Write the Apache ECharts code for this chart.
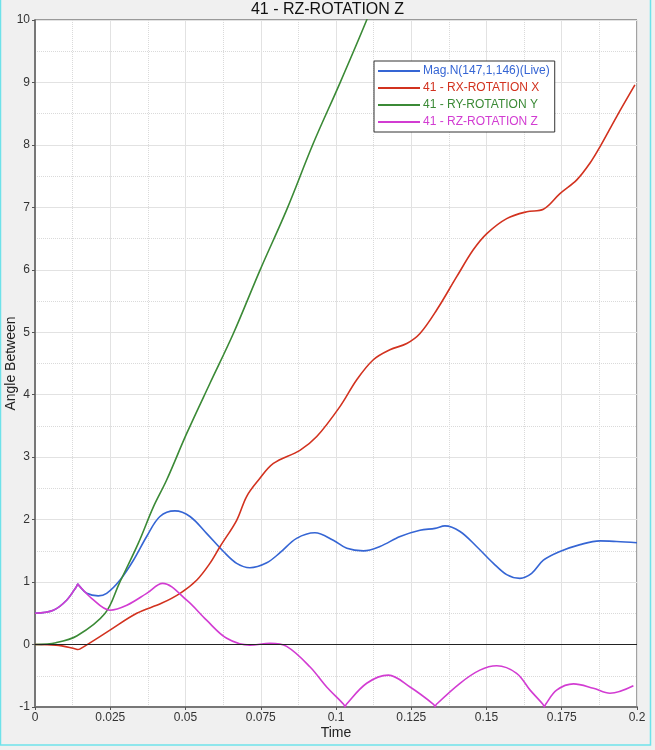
<!DOCTYPE html>
<html style="height: 100%">
<head>
<meta charset="utf-8">
</head>
<body style="height: 100%; margin: 0; background: #f0f0f0">
<div id="container" style="width: 655px; height: 750px"></div>
<script type="text/javascript" src="https://cdn.jsdelivr.net/npm/echarts@6/dist/echarts.min.js"></script>
<script type="text/javascript">
// values (time in s, angle)
var magT = [0, 0.0061, 0.0105, 0.0138, 0.0142, 0.0147, 0.0172, 0.021, 0.0238, 0.0282, 0.0327, 0.0371, 0.0415, 0.0465, 0.0515, 0.057, 0.0626, 0.067, 0.0714, 0.077, 0.0814, 0.0869, 0.093, 0.0991, 0.1036, 0.1091, 0.1146, 0.1213, 0.1279, 0.1329, 0.1362, 0.1412, 0.1467, 0.1523, 0.1567, 0.1611, 0.165, 0.1689, 0.1744, 0.1811, 0.1877, 0.1932, 0.2];
var magV = [0.5, 0.55, 0.71, 0.93, 0.97, 0.94, 0.82, 0.78, 0.82, 1.03, 1.35, 1.73, 2.05, 2.14, 2.05, 1.78, 1.49, 1.30, 1.23, 1.31, 1.47, 1.70, 1.79, 1.67, 1.54, 1.50, 1.57, 1.73, 1.83, 1.86, 1.90, 1.81, 1.57, 1.30, 1.12, 1.06, 1.14, 1.35, 1.49, 1.60, 1.66, 1.65, 1.63];

var rxT = [0, 0.007, 0.0135, 0.0142, 0.015, 0.0249, 0.0338, 0.042, 0.0482, 0.0537, 0.0581, 0.0615, 0.067, 0.0703, 0.0742, 0.0792, 0.088, 0.0936, 0.1013, 0.1069, 0.1124, 0.1179, 0.1235, 0.1279, 0.1335, 0.1401, 0.1456, 0.1501, 0.1567, 0.1634, 0.1689, 0.1744, 0.18, 0.1844, 0.1877, 0.1932, 0.1993];
var rxV = [0, -0.01, -0.07, -0.08, -0.07, 0.23, 0.5, 0.66, 0.82, 1.03, 1.3, 1.57, 1.99, 2.37, 2.63, 2.90, 3.11, 3.33, 3.81, 4.24, 4.56, 4.72, 4.82, 4.98, 5.36, 5.89, 6.32, 6.58, 6.82, 6.93, 6.97, 7.22, 7.44, 7.71, 7.97, 8.45, 8.96];

var ryT = [0, 0.007, 0.014, 0.0233, 0.028, 0.0343, 0.0393, 0.0437, 0.0504, 0.0581, 0.0659, 0.0748, 0.0836, 0.0925, 0.1013, 0.1102, 0.115];
var ryV = [0, 0.03, 0.14, 0.5, 0.98, 1.62, 2.2, 2.63, 3.38, 4.18, 4.98, 6.0, 6.96, 8.03, 8.99, 10.0, 10.6];

var rzT = [0, 0.0061, 0.0105, 0.0138, 0.0142, 0.0147, 0.0188, 0.0249, 0.0305, 0.0371, 0.0424, 0.0504, 0.057, 0.0637, 0.0714, 0.0781, 0.0836, 0.0914, 0.0969, 0.1026, 0.103, 0.1034, 0.1102, 0.1174, 0.1246, 0.1325, 0.1329, 0.1333, 0.1412, 0.1478, 0.1534, 0.16, 0.1645, 0.1688, 0.1692, 0.1696, 0.1733, 0.1789, 0.1855, 0.191, 0.1988];
var rzV = [0.5, 0.55, 0.71, 0.93, 0.97, 0.94, 0.74, 0.55, 0.63, 0.82, 0.98, 0.71, 0.39, 0.1, -0.01, 0.02, -0.03, -0.36, -0.68, -0.96, -1.0, -0.96, -0.62, -0.49, -0.68, -0.96, -1.0, -0.96, -0.62, -0.41, -0.34, -0.46, -0.73, -0.96, -1.0, -0.96, -0.73, -0.63, -0.70, -0.78, -0.66];

var names = ['Mag.N(147,1,146)(Live)', '41 - RX-ROTATION X', '41 - RY-ROTATION Y', '41 - RZ-ROTATION Z'];
var colors = ['#3565d4', '#d2321f', '#3b8a36', '#d23cd2'];

function pairs(t, v) {
    var res = [];
    for (var i = 0; i < t.length; i++) res.push([t[i], v[i]]);
    return res;
}

var dom = document.getElementById('container');
var myChart = echarts.init(dom, null, { renderer: 'canvas' });

var seriesData = [pairs(magT, magV), pairs(rxT, rxV), pairs(ryT, ryV), pairs(rzT, rzV)];
var series = [];
for (var i = 0; i < 4; i++) {
    var s = {
        name: names[i],
        type: 'line',
        data: seriesData[i],
        showSymbol: false,
        smooth: 0.35,
        clip: true,
        color: colors[i],
        lineStyle: { color: colors[i], width: 1.6 }
    };
    if (i === 0) {
        s.markLine = {
            silent: true,
            symbol: ['none', 'none'],
            label: { show: false },
            lineStyle: { color: '#222', width: 1, type: 'solid' },
            data: [{ yAxis: 0 }]
        };
    }
    series.push(s);
}

var option = {
    backgroundColor: '#f0f0f0',
    animation: false,
    title: {
        text: '41 - RZ-ROTATION Z',
        left: 'center',
        top: -3,
        textStyle: { fontSize: 16, fontWeight: 'normal', color: '#111', fontFamily: 'Liberation Sans, Arial' }
    },
    legend: {
        orient: 'vertical',
        left: 374,
        top: 61,
        padding: [4, 5, 4, 4],
        backgroundColor: '#fff',
        borderColor: '#333',
        borderWidth: 1,
        borderRadius: 0,
        icon: 'rect',
        itemWidth: 42,
        itemHeight: 2,
        itemGap: 5,
        selectedMode: false,
        textStyle: { fontSize: 12, fontFamily: 'Liberation Sans, Arial', padding: [0, 0, 0, -2] },
        data: names.map(function (n, i) {
            return { name: n, textStyle: { color: colors[i] } };
        })
    },
    grid: {
        left: 35,
        right: 18,
        top: 20,
        bottom: 43,
        show: true,
        backgroundColor: '#fff',
        borderColor: '#444',
        borderWidth: 1,
        containLabel: false,
        outerBoundsMode: 'none'
    },
    xAxis: {
        type: 'value',
        min: 0,
        max: 0.2,
        interval: 0.025,
        name: 'Time',
        nameLocation: 'middle',
        nameGap: 19,
        nameMoveOverlap: false,
        nameTextStyle: { fontSize: 14, color: '#222', fontFamily: 'Liberation Sans, Arial' },
        axisLine: { onZero: false, lineStyle: { color: '#777', width: 2 } },
        axisTick: { show: true, length: 3, lineStyle: { color: '#555' } },
        axisLabel: { fontSize: 12, color: '#333', margin: 5, fontFamily: 'Liberation Sans, Arial' },
        splitLine: { show: true, lineStyle: { color: '#e2e2e2', width: 1 } },
        minorTick: { show: false, splitNumber: 2 },
        minorSplitLine: { show: true, lineStyle: { color: '#dadada', type: 'dotted', width: 1 } }
    },
    yAxis: {
        type: 'value',
        min: -1,
        max: 10,
        interval: 1,
        name: 'Angle Between',
        nameLocation: 'middle',
        nameGap: 17,
        nameMoveOverlap: false,
        nameTextStyle: { fontSize: 14, color: '#222', fontFamily: 'Liberation Sans, Arial' },
        axisLine: { show: true, lineStyle: { color: '#777', width: 2 } },
        axisTick: { show: true, length: 3, lineStyle: { color: '#555' } },
        axisLabel: { fontSize: 12, color: '#333', margin: 5, fontFamily: 'Liberation Sans, Arial' },
        splitLine: { show: true, lineStyle: { color: '#e2e2e2', width: 1 } },
        minorTick: { show: false, splitNumber: 2 },
        minorSplitLine: { show: true, lineStyle: { color: '#dadada', type: 'dotted', width: 1 } }
    },
    graphic: [{
        type: 'rect',
        silent: true,
        shape: { x: 0.5, y: -3, width: 650, height: 748 },
        style: { fill: 'none', stroke: '#6ee2ea', lineWidth: 1.5 }
    }],
    series: series
};

myChart.setOption(option);
</script>
</body>
</html>
